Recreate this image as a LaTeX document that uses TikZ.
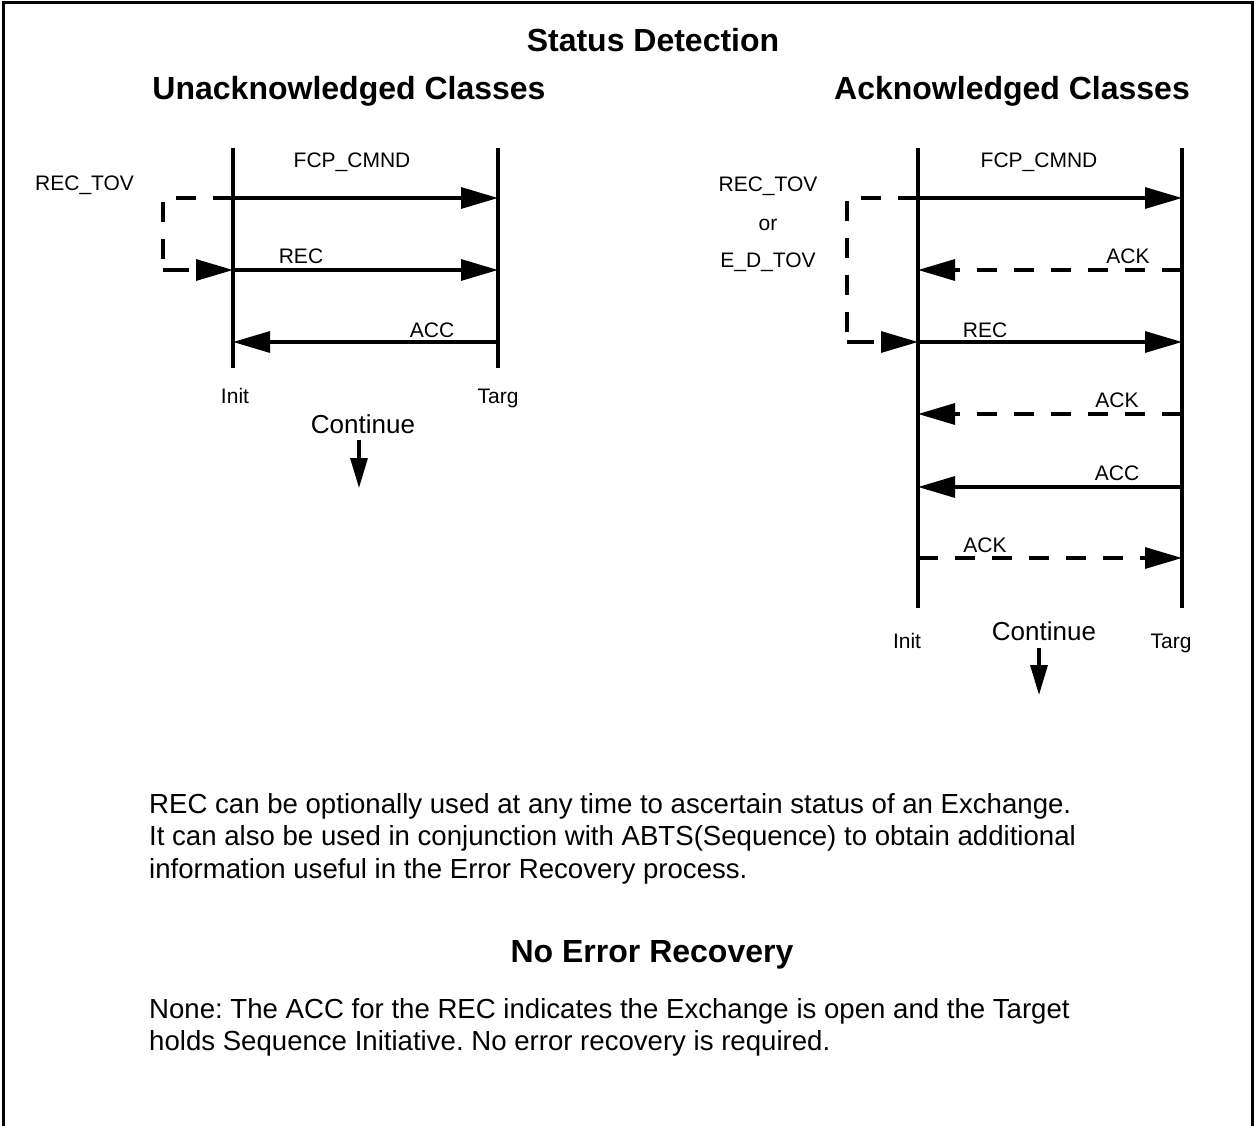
\documentclass[tikz,border=0pt]{standalone}
\usepackage{fontspec}
\setmainfont{Liberation Sans}
\usetikzlibrary{arrows.meta}
\frenchspacing
\begin{document}
\begin{tikzpicture}[x=1pt,y=-1pt,
  lifeline/.style={line width=3.2pt},
  msg/.style={line width=3.2pt,-{Triangle[length=37pt,width=21pt]}},
  dmsg/.style={msg,dash pattern=on 20pt off 17pt},
  dline/.style={line width=3.2pt,dash pattern=on 20pt off 17pt},
  lbl/.style={inner sep=0pt,anchor=base,font=\fontsize{21}{25}\selectfont},
  cont/.style={inner sep=0pt,anchor=base,font=\fontsize{26}{30}\selectfont},
  head/.style={inner sep=0pt,anchor=base,font=\bfseries\fontsize{32}{38}\selectfont},
  body/.style={inner sep=0pt,anchor=base west,font=\fontsize{27.6}{33}\selectfont},
  carrow/.style={line width=3.2pt,-{Triangle[length=30pt,width=17pt]}}]
\useasboundingbox (0,0) rectangle (1255,1126);
% frame (open at bottom)
\draw[line width=3pt] (3,1126) -- (3,3) -- (1252,3) -- (1252,1126);
% headings
\node[head] (title) at (653,52) {Status Detection};
\node[head] (hunack) at (349,100) {Unacknowledged Classes};
\node[head] (hack) at (1012,100) {Acknowledged Classes};
% ---------- left diagram ----------
\coordinate (LIt) at (233,148); \coordinate (LIb) at (233,368);
\coordinate (LTt) at (498,148); \coordinate (LTb) at (498,368);
\draw[lifeline] (LIt) -- (LIb);
\draw[lifeline] (LTt) -- (LTb);
\coordinate (L1i) at (233,198); \coordinate (L1t) at (498,198);
\coordinate (L2i) at (233,270); \coordinate (L2t) at (498,270);
\coordinate (L3i) at (233,342); \coordinate (L3t) at (498,342);
\coordinate (Lc1) at (163,198); \coordinate (Lc2) at (163,270);
\draw[msg] (L1i) -- (L1t);
\draw[dline] (L1i) -- (Lc1) -- (Lc2) -- (200,270);
\draw[dmsg] (Lc2) -- (L2i);
\draw[msg] (L2i) -- (L2t);
\draw[msg] (L3t) -- (L3i);
\node[lbl] (lfcp) at (352,168) {FCP\_CMND};
\node[lbl] (lrec) at (301,263) {REC};
\node[lbl] (lacc) at (432,337) {ACC};
\node[lbl,anchor=base west] (lrectov) at (35,190) {REC\_TOV};
\node[lbl] (linit) at (235,403) {Init};
\node[lbl] (ltarg) at (498,403) {Targ};
\node[cont] (lcont) at (363,433) {Continue};
\coordinate (Lct) at (359,440); \coordinate (Lcb) at (359,488);
\draw[carrow] (Lct) -- (Lcb);
% ---------- right diagram ----------
\coordinate (RIt) at (918,148); \coordinate (RIb) at (918,608);
\coordinate (RTt) at (1182,148); \coordinate (RTb) at (1182,608);
\draw[lifeline] (RIt) -- (RIb);
\draw[lifeline] (RTt) -- (RTb);
\coordinate (R1i) at (918,198); \coordinate (R1t) at (1182,198);
\coordinate (R2i) at (918,270); \coordinate (R2t) at (1182,270);
\coordinate (R3i) at (918,342); \coordinate (R3t) at (1182,342);
\coordinate (R4i) at (918,414); \coordinate (R4t) at (1182,414);
\coordinate (R5i) at (918,487); \coordinate (R5t) at (1182,487);
\coordinate (R6i) at (918,558); \coordinate (R6t) at (1182,558);
\coordinate (Rc1) at (847,198); \coordinate (Rc2) at (847,342);
\draw[msg] (R1i) -- (R1t);
\draw[dline] (R1i) -- (Rc1) -- (Rc2) -- (880,342);
\draw[dmsg] (Rc2) -- (R3i);
\draw[dmsg] (R2t) -- (R2i);
\draw[msg] (R3i) -- (R3t);
\draw[dmsg] (R4t) -- (R4i);
\draw[msg] (R5t) -- (R5i);
\draw[dmsg] (R6i) -- (R6t);
\node[lbl] (rfcp) at (1039,168) {FCP\_CMND};
\node[lbl] (rrectov) at (768,192) {REC\_TOV};
\node[lbl] (ror) at (768,230) {or};
\node[lbl] (redtov) at (768,267) {E\_D\_TOV};
\node[lbl] (rack1) at (1128,263) {ACK};
\node[lbl] (rrec) at (985,337) {REC};
\node[lbl] (rack2) at (1117,407) {ACK};
\node[lbl] (racc) at (1117,480) {ACC};
\node[lbl] (rack3) at (985,552) {ACK};
\node[lbl] (rinit) at (907,648) {Init};
\node[lbl] (rtarg) at (1171,648) {Targ};
\node[cont] (rcont) at (1044,640) {Continue};
\coordinate (Rct) at (1039,648); \coordinate (Rcb) at (1039,695);
\draw[carrow] (Rct) -- (Rcb);
% ---------- text ----------
\node[body] (p1a) at (149,813) {REC can be optionally used at any time to ascertain status of an Exchange.};
\node[body] (p1b) at (149,845) {It can also be used in conjunction with ABTS(Sequence) to obtain additional};
\node[body] (p1c) at (149,878) {information useful in the Error Recovery process.};
\node[head] (hner) at (652,962) {No Error Recovery};
\node[body] (p2a) at (149,1018) {None: The ACC for the REC indicates the Exchange is open and the Target};
\node[body] (p2b) at (149,1050) {holds Sequence Initiative. No error recovery is required.};
\end{tikzpicture}
\end{document}
